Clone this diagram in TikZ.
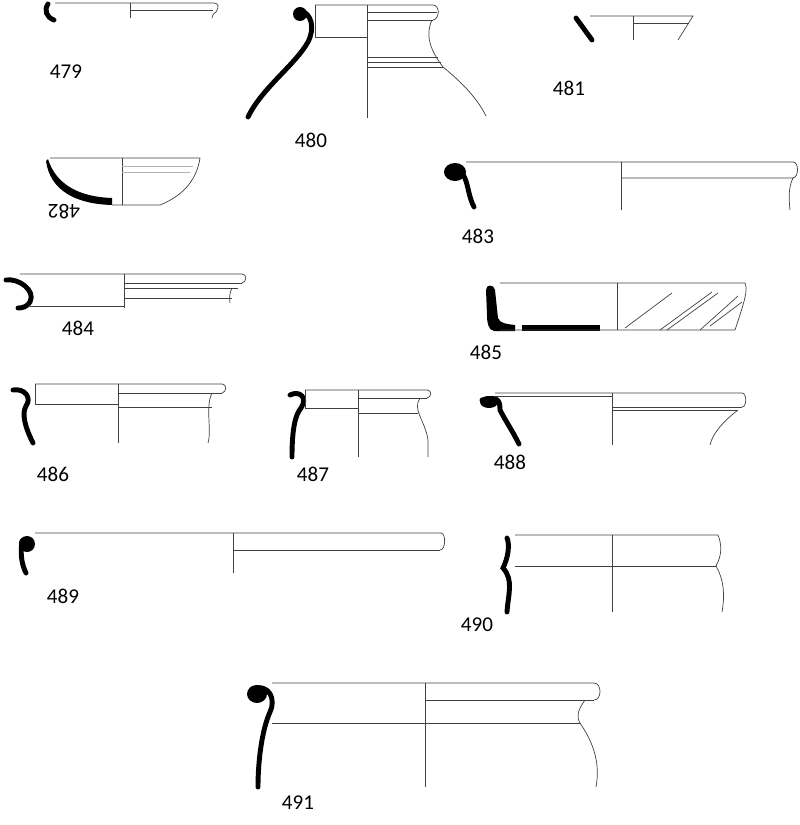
\documentclass[tikz,border=0pt]{standalone}
\usepackage{fontspec}
\setmainfont{Carlito}
\begin{document}
\begin{tikzpicture}[x=0.02cm, y=-0.02cm,
    sec/.style={draw=black!75, line width=0.4pt},
    prof/.style={draw=black, line width=2.8pt, line cap=round},
    knob/.style={fill=black},
    num/.style={font=\large, anchor=center}
]
\useasboundingbox (0,0) rectangle (800,825);

% 479
\draw[prof] (48,4) .. controls (44,10) and (46,17) .. (54,20);
\draw[sec] (55,3) -- (214,3) .. controls (219,3) and (219,8) .. (216,12) .. controls (213,14) and (212,16) .. (212,18);
\draw[sec] (130,3) -- (130,18);
\draw[sec] (130,10) -- (213,10);
\node[num] (n479) at (66,72) {479};

% 480
\fill[knob] (300,14) circle (7);
\draw[prof] (300,10) .. controls (312,14) and (315,28) .. (308,42) .. controls (295,65) and (262,88) .. (248,117);
\draw[sec] (315,5) -- (433,5) .. controls (440,5) and (440,19) .. (433,20);
\draw[sec] (367,12) -- (437,12);
\draw[sec] (367,20) -- (433,20);
\draw[sec] (367,5) -- (367,118);
\draw[sec] (315,37) -- (367,37);
\draw[sec] (315,5) -- (315,37);
\draw[sec] (367,57) -- (438,57);
\draw[sec] (367,62) -- (441,62);
\draw[sec] (367,67) -- (443,67);
\draw[sec] (432,20) .. controls (425,35) and (430,50) .. (443,67) .. controls (465,85) and (478,100) .. (486,116);
\node[num] (n480) at (311,140) {480};

% 481
\draw[prof] (576,18) -- (592,40);
\draw[sec] (590,16) -- (693,16) -- (678,40);
\draw[sec] (633,16) -- (633,40);
\draw[sec] (633,23) -- (689,23);
\node[num] (n481) at (569,88) {481};

% 482
\fill[knob] (48,159) .. controls (56,185) and (80,197) .. (112,198) -- (112,205) .. controls (75,204) and (50,190) .. (46,161) -- cycle;
\draw[sec] (50,158) -- (200,158) .. controls (197,178) and (185,195) .. (160,205) -- (112,205);
\draw[sec] (122,158) -- (122,205);
\draw[sec, black!30] (122,166) -- (193,166);
\draw[sec, black!30] (122,172) -- (190,172);
\node[num, rotate=180] (n482) at (64,212) {482};

% 483
\fill[knob] (455,172) ellipse (11 and 9);
\draw[prof] (449,168) .. controls (470,168) and (465,190) .. (474,207);
\draw[sec] (466,162) -- (793,162) .. controls (799,162) and (799,177) .. (793,178);
\draw[sec] (621,178) -- (793,178) .. controls (788,188) and (789,200) .. (790,210);
\draw[sec] (621,162) -- (621,210);
\node[num] (n483) at (478,236) {483};

% 484
\draw[prof] (6,280) .. controls (18,278) and (36,290) .. (30,302) .. controls (27,307) and (22,308) .. (18,308);
\draw[sec] (20,274) -- (242,274) .. controls (247,274) and (247,282) .. (242,283);
\draw[sec] (124,283) -- (242,283);
\draw[sec] (124,288) -- (238,288);
\draw[sec] (124,298) -- (232,298);
\draw[sec] (232,288) .. controls (230,292) and (229,297) .. (230,303);
\draw[sec] (124,274) -- (124,308);
\draw[sec] (30,306) -- (124,306);
\node[num] (n484) at (78,328) {484};

% 485
\fill[knob] (486,290) .. controls (486,284) and (494,284) .. (495,290) -- (498,318) .. controls (500,324) and (508,324) .. (515,325) -- (515,331) -- (494,331) .. controls (488,330) and (487,322) .. (487,315) -- cycle;
\fill[knob] (522,325) rectangle (600,331);
\draw[sec] (500,283) -- (745,283) .. controls (748,290) and (745,300) .. (735,330) -- (500,330);
\draw[sec] (617,283) -- (617,330);
\draw[sec] (625,328) -- (672,293);
\draw[sec] (660,330) -- (712,292);
\draw[sec] (667,330) -- (718,293);
\draw[sec] (700,330) -- (738,296);
\draw[sec] (710,326) -- (742,302);
\node[num] (n485) at (486,352) {485};

% 486
\draw[prof] (13,390) .. controls (25,388) and (32,398) .. (26,406) .. controls (22,413) and (24,425) .. (33,443);
\draw[sec] (35,384) -- (222,384) .. controls (227,384) and (227,392) .. (222,393);
\draw[sec] (118,393) -- (222,393);
\draw[sec] (118,407) -- (212,407);
\draw[sec] (35,404) -- (118,404);
\draw[sec] (35,384) -- (35,404);
\draw[sec] (118,384) -- (118,443);
\draw[sec] (212,393) .. controls (205,407) and (212,430) .. (208,443);
\node[num] (n486) at (53,474) {486};

% 487
\draw[prof] (290,395) .. controls (300,390) and (308,398) .. (301,408) .. controls (295,415) and (292,430) .. (292,457);
\draw[sec] (305,390) -- (427,390) .. controls (432,390) and (432,397) .. (427,398);
\draw[sec] (358,398) -- (427,398);
\draw[sec] (358,413) -- (418,413);
\draw[sec] (305,408) -- (358,408);
\draw[sec] (305,390) -- (305,408);
\draw[sec] (358,390) -- (358,457);
\draw[sec] (420,398) .. controls (412,410) and (425,420) .. (428,440) -- (428,457);
\node[num] (n487) at (313,474) {487};

% 488
\fill[knob] (489,402) ellipse (9 and 6);
\draw[prof] (482,400) .. controls (498,396) and (500,400) .. (500,410) .. controls (505,420) and (512,430) .. (519,444);
\draw[sec] (495,393) -- (742,393) .. controls (747,393) and (747,407) .. (742,407);
\draw[sec] (495,396) -- (612,396);
\draw[sec] (612,407) -- (742,407);
\draw[sec] (612,410) -- (738,410);
\draw[sec] (612,393) -- (612,445);
\draw[sec] (738,410) .. controls (725,420) and (713,432) .. (710,445);
\node[num] (n488) at (510,462) {488};

% 489
\fill[knob] (27,544) ellipse (8 and 8);
\draw[prof] (22,541) .. controls (20,555) and (22,565) .. (26,573);
\draw[sec] (35,533) -- (441,533) .. controls (446,533) and (446,550) .. (440,550);
\draw[sec] (233,550) -- (440,550);
\draw[sec] (233,533) -- (233,573);
\node[num] (n489) at (63,596) {489};

% 490
\draw[prof] (507,538) .. controls (510,545) and (508,558) .. (503,568) .. controls (514,580) and (508,595) .. (507,612);
\draw[sec] (515,535) -- (718,535) .. controls (722,545) and (722,555) .. (716,566);
\draw[sec] (515,566) -- (716,566);
\draw[sec] (612,535) -- (612,612);
\draw[sec] (716,566) .. controls (724,580) and (725,595) .. (722,612);
\node[num] (n490) at (477,625) {490};

% 491
\fill[knob] (257,694) ellipse (10 and 9);
\draw[prof] (252,689) .. controls (270,683) and (276,700) .. (270,712) .. controls (262,730) and (258,760) .. (258,787);
\draw[sec] (272,683) -- (594,683) .. controls (602,683) and (602,700) .. (594,700);
\draw[sec] (425,700) -- (594,700);
\draw[sec] (272,723) -- (580,723);
\draw[sec] (425,683) -- (425,787);
\draw[sec] (585,700) .. controls (578,710) and (576,716) .. (580,723) .. controls (595,745) and (600,765) .. (596,787);
\node[num] (n491) at (298,803) {491};

\end{tikzpicture}
\end{document}
